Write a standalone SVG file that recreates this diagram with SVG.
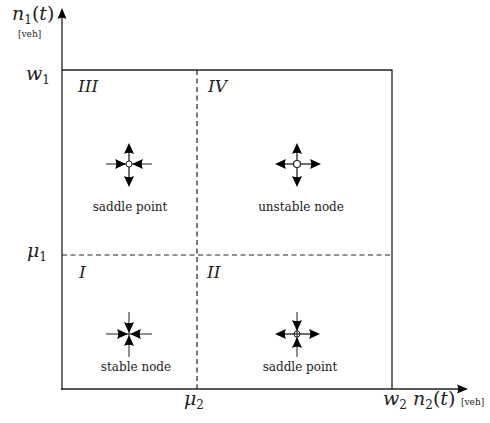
<svg xmlns="http://www.w3.org/2000/svg" width="490" height="423" viewBox="0 0 490 423">
<style>
.ln{stroke:#222;stroke-width:1.3;fill:none}
.th{stroke:#222;stroke-width:1;fill:none}
.dash{stroke:#222;stroke-width:1.2;fill:none;stroke-dasharray:5,3.5}
.ah{fill:#000;stroke:none}
text{font-family:'DejaVu Serif','Liberation Serif',serif;fill:#222}
.lbl{font-size:12px}
.rn{font-size:17px;font-style:italic}
.m{font-size:19px;font-style:italic}
.mr{font-size:19px;font-style:normal}
.sub{font-size:12px;font-style:normal}
.u{font-size:9px}
</style>
<defs>
<path id="hd" d="M0,0 L-11,-5 Q-8.5,0 -11,5 Z"/>
<path id="big" d="M0,0 L-11,-4.5 Q-8.5,0 -11,4.5 Z"/>
</defs>
<g id="axes">
<line class="ln" x1="62" y1="390" x2="62" y2="14"/>
<use href="#big" class="ah" transform="translate(62,8) rotate(-90)"/>
<line class="ln" x1="61" y1="389" x2="462" y2="389"/>
<use href="#big" class="ah" transform="translate(468,389)"/>
<polyline class="ln" points="62,70 392,70 392,389"/>
<line class="dash" x1="197" y1="70" x2="197" y2="389"/>
<line class="dash" x1="62" y1="255" x2="392" y2="255"/>
</g>
<g id="axis-labels">
<text class="m" x="12" y="20">n<tspan class="sub" dy="4">1</tspan><tspan class="mr" dy="-4">(</tspan>t<tspan class="mr">)</tspan></text>
<text class="u" x="18" y="37">[veh]</text>
<text class="m" x="26" y="80">w<tspan class="sub" dy="4">1</tspan></text>
<text class="m" x="27" y="257">μ<tspan class="sub" dy="4">1</tspan></text>
<text class="m" x="184" y="405">μ<tspan class="sub" dy="4">2</tspan></text>
<text class="m" x="383" y="405">w<tspan class="sub" dy="4">2</tspan></text>
<text class="m" x="413" y="405">n<tspan class="sub" dy="4">2</tspan><tspan class="mr" dy="-4">(</tspan>t<tspan class="mr">)</tspan></text>
<text class="u" x="461" y="405">[veh]</text>
</g>
<g id="regions">
<text class="rn" x="78" y="92">III</text>
<text class="rn" x="208" y="92">IV</text>
<text class="rn" x="79" y="278">I</text>
<text class="rn" x="207" y="278">II</text>
</g>
<g id="saddle-III" transform="translate(129,164)">
<line class="th" x1="-23" y1="0" x2="23" y2="0"/>
<line class="ln" x1="0" y1="-15" x2="0" y2="15"/>
<use href="#hd" class="ah" transform="translate(0,-21) rotate(-90)"/>
<use href="#hd" class="ah" transform="translate(0,23) rotate(90)"/>
<use href="#hd" class="ah" transform="translate(-3,0)"/>
<use href="#hd" class="ah" transform="translate(3,0) rotate(180)"/>
<circle cx="0" cy="0" r="3" fill="#fff" stroke="#222" stroke-width="1"/>
<text class="lbl" x="1" y="47" text-anchor="middle">saddle point</text>
</g>
<g id="unstable-IV" transform="translate(297,164)">
<line class="ln" x1="-15" y1="0" x2="15" y2="0"/>
<line class="ln" x1="0" y1="-15" x2="0" y2="15"/>
<use href="#hd" class="ah" transform="translate(0,-21) rotate(-90)"/>
<use href="#hd" class="ah" transform="translate(0,23) rotate(90)"/>
<use href="#hd" class="ah" transform="translate(-22,0) rotate(180)"/>
<use href="#hd" class="ah" transform="translate(24,0)"/>
<circle cx="0" cy="0" r="3.5" fill="#fff" stroke="#222" stroke-width="1.2"/>
<text class="lbl" x="4" y="47" text-anchor="middle">unstable node</text>
</g>
<g id="stable-I" transform="translate(129,334)">
<line class="th" x1="-23" y1="0" x2="23" y2="0"/>
<line class="th" x1="0" y1="-22" x2="0" y2="23"/>
<use href="#hd" class="ah" transform="translate(-1,0)"/>
<use href="#hd" class="ah" transform="translate(1,0) rotate(180)"/>
<use href="#hd" class="ah" transform="translate(0,-1) rotate(90)"/>
<use href="#hd" class="ah" transform="translate(0,1) rotate(-90)"/>
<text class="lbl" x="7" y="37" text-anchor="middle">stable node</text>
</g>
<g id="saddle-II" transform="translate(297,334)">
<line class="ln" x1="-15" y1="0" x2="15" y2="0"/>
<line class="th" x1="0" y1="-22" x2="0" y2="23"/>
<use href="#hd" class="ah" transform="translate(-22,0) rotate(180)"/>
<use href="#hd" class="ah" transform="translate(23,0)"/>
<use href="#hd" class="ah" transform="translate(0,-3) rotate(90)"/>
<use href="#hd" class="ah" transform="translate(0,3) rotate(-90)"/>
<circle cx="0" cy="0" r="3" fill="none" stroke="#222" stroke-width="1"/>
<text class="lbl" x="3" y="37" text-anchor="middle">saddle point</text>
</g>
</svg>
